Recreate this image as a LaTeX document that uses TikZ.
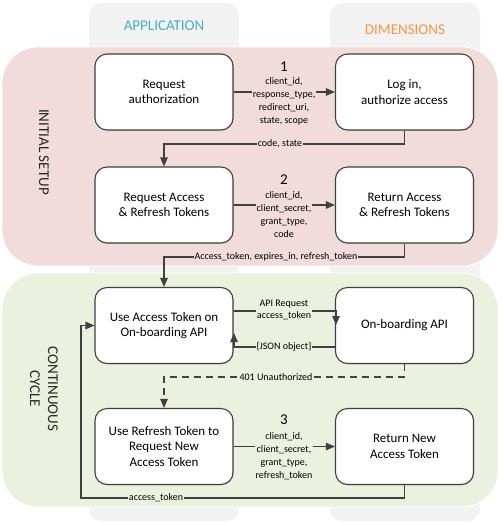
\documentclass[tikz,border=0pt]{standalone}
\usepackage{fontspec}
\setmainfont{Carlito}
\usetikzlibrary{arrows.meta,shadows}
\definecolor{pinkbg}{HTML}{F2DCDB}
\definecolor{greenbg}{HTML}{EBF1DE}
\definecolor{greybg}{HTML}{F2F2F2}
\definecolor{apcol}{HTML}{4BACC6}
\definecolor{dimcol}{HTML}{F79646}
\definecolor{linecol}{HTML}{404040}
\begin{document}
\begin{tikzpicture}[x=1pt,y=-1pt,
  box/.style={draw=linecol, line width=1.1pt, fill=white, rounded corners=12pt,
    minimum width=138pt, minimum height=76pt, align=center, inner sep=2pt,
    font=\fontsize{13}{15.5}\selectfont,
    drop shadow={opacity=0.25, shadow xshift=0.8pt, shadow yshift=-0.8pt}},
  conn/.style={draw=linecol, line width=1.1pt, -{Triangle[length=9pt,width=7.5pt]}},
  lbl/.style={font=\fontsize{10}{12.8}\selectfont, align=center, inner sep=1pt},
  num/.style={font=\fontsize{15}{16}\selectfont, inner sep=0pt},
  region/.style={draw=white, line width=0.8pt, rounded corners=36pt},
  lane/.style={fill=greybg, rounded corners=12pt},
  title/.style={font=\fontsize{15}{18}\selectfont},
  side/.style={font=\fontsize{15}{18}\selectfont, rotate=-90, align=center, text=black!85}
]
\useasboundingbox (0,0) rectangle (502,523);
% lanes
\fill[lane] (89,3) rectangle (239,521);
\fill[lane] (330,3) rectangle (480,521);
\node[title, text=apcol] (tapp) at (164,26) {APPLICATION};
\node[title, text=dimcol] (tdim) at (405,30) {DIMENSIONS};
% regions
\path[region, fill=pinkbg] (2,47) rectangle (498,266);
\path[region, fill=greenbg] (2,273) rectangle (498,507);
\node[side] (tinit) at (44,152) {INITIAL SETUP};
\node[side] (tcyc) at (44,389) {CONTINUOUS\\CYCLE};
% boxes
\node[box] (a1) at (164,92) {Request\\authorization};
\node[box] (d1) at (404.5,92) {Log in,\\authorize access};
\node[box] (a2) at (164,205) {Request Access\\\& Refresh Tokens};
\node[box] (d2) at (404.5,205) {Return Access\\\& Refresh Tokens};
\node[box] (a3) at (164,325.5) {Use Access Token on\\On-boarding API};
\node[box] (d3) at (404.5,325.5) {On-boarding API};
\node[box] (a4) at (164,446.5) {Use Refresh Token to\\Request New\\Access Token};
\node[box] (d4) at (404.5,446.5) {Return New\\Access Token};
% bend coordinates
\coordinate (c1) at (0,144);
\coordinate (c2) at (0,257);
\coordinate (c3) at (0,377);
\coordinate (c4) at (0,498);
\coordinate (apiy) at (0,311);
\coordinate (jsony) at (0,347);
\coordinate (apitip) at (336,325);
\coordinate (jsontip) at (234,333);
\coordinate (loopx) at (81,0);
% step 1
\draw[conn] (a1.east) -- (d1.west);
\node[num] (n1) at (284,67) {1};
\node[lbl, fill=pinkbg] (l1) at (284,101.5) {client\_id,\\response\_type,\\redirect\_uri,\\state, scope};
% code, state
\draw[conn] (d1.south) -- (d1.south |- c1) -- (a2.north |- c1) -- (a2.north);
\node[lbl, fill=pinkbg] (l2) at (280,144) {code, state};
% step 2
\draw[conn] (a2.east) -- (d2.west);
\node[num] (n2) at (284,180) {2};
\node[lbl, fill=pinkbg] (l3) at (284,214.5) {client\_id,\\client\_secret,\\grant\_type,\\code};
% tokens
\draw[conn] (d2.south) -- (d2.south |- c2) -- (a3.north |- c2) -- (a3.north);
\node[lbl, fill=pinkbg] (l4) at (276,257) {Access\_token, expires\_in, refresh\_token};
% API request
\draw[conn] (a3.east |- apiy) -- (apitip |- apiy) -- (apitip);
\node[lbl, fill=greenbg] (l5) at (284,310) {API Request\\access\_token};
% JSON
\draw[conn] (d3.west |- jsony) -- (jsontip |- jsony) -- (jsontip);
\node[lbl, fill=greenbg] (l6) at (284,347) {\{JSON object\}};
% 401
\draw[conn, dash pattern=on 7pt off 5pt] (d3.south) -- (d3.south |- c3) -- (a4.north |- c3) -- (a4.north);
\node[lbl, fill=greenbg] (l7) at (276,377) {401 Unauthorized};
% step 3
\draw[conn] (a4.east) -- (d4.west);
\node[num] (n3) at (284,420) {3};
\node[lbl, fill=greenbg] (l8) at (284,456) {client\_id,\\client\_secret,\\grant\_type,\\refresh\_token};
% loop back
\draw[conn] (d4.south) -- (d4.south |- c4) -- (loopx |- c4) -- (loopx |- a3.west) -- (a3.west);
\node[lbl, fill=greenbg] (l9) at (156,498) {access\_token};
\end{tikzpicture}
\end{document}
